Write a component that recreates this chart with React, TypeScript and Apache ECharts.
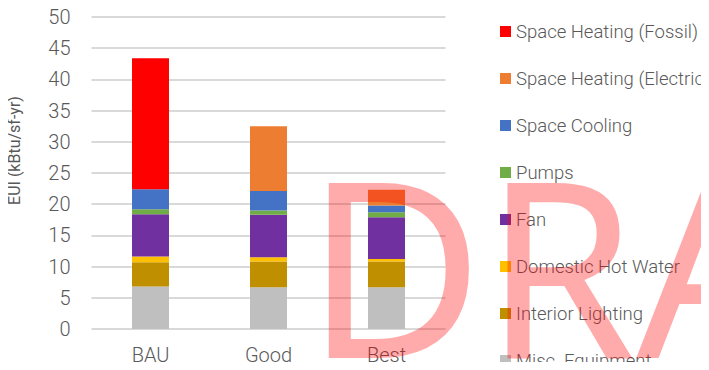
import React, { useEffect, useRef } from "react";
import * as echarts from "echarts";

const categories = ["BAU", "Good", "Best"];
const seriesNames = [
  "Misc. Equipment",
  "Interior Lighting",
  "Domestic Hot Water",
  "Fan",
  "Pumps",
  "Space Cooling",
  "Space Heating (Electric)",
  "Space Heating (Fossil)",
];
const miscEquipment = [6.8, 6.7, 6.7];
const interiorLighting = [3.9, 4.1, 4.1];
const domesticHotWater = [0.9, 0.7, 0.4];
const fan = [6.8, 6.8, 6.7];
const pumps = [0.8, 0.7, 0.8];
const spaceCooling = [3.2, 3.1, 1.1];
const spaceHeatingElectric = [0, 10.4, 2.5];
const spaceHeatingFossil = [21.0, 0, 0];
const colors = ["#BFBFBF", "#BF8F00", "#FFC000", "#7030A0", "#70AD47", "#4472C4", "#ED7D31", "#FF0000"];
const yTicks = { min: 0, max: 50, interval: 5 };

export default function App() {
  const ref = useRef<HTMLDivElement>(null);
  useEffect(() => {
    if (!ref.current) return;
    const chart = echarts.init(ref.current, undefined, { renderer: "svg" });
    const values = [
      miscEquipment,
      interiorLighting,
      domesticHotWater,
      fan,
      pumps,
      spaceCooling,
      spaceHeatingElectric,
      spaceHeatingFossil,
    ];
    const font = "Roboto";
    const textColor = "#595959";
    chart.setOption({
      animation: false,
      grid: { left: 91.5, right: 263.5, top: 17, bottom: 41 },
      legend: {
        orient: "vertical",
        left: 500,
        top: 20.5,
        height: 360,
        padding: 0,
        itemWidth: 11,
        itemHeight: 11,
        itemGap: 25,
        icon: "rect",
        data: seriesNames.slice().reverse(),
        textStyle: { fontFamily: font, fontWeight: 300, fontSize: 18.5, color: textColor, lineHeight: 22 },
      },
      xAxis: {
        type: "category",
        data: categories,
        axisLine: { show: false },
        axisTick: { show: false },
        axisLabel: { fontFamily: font, fontWeight: 300, fontSize: 20, color: textColor, margin: 16 },
      },
      yAxis: {
        type: "value",
        min: yTicks.min,
        max: yTicks.max,
        interval: yTicks.interval,
        axisLine: { show: false },
        axisTick: { show: false },
        splitLine: { lineStyle: { color: "#D9D9D9", width: 2 } },
        axisLabel: { fontFamily: font, fontWeight: 300, fontSize: 20, color: textColor, margin: 21 },
      },
      series: seriesNames.map((name, i) => ({
        name,
        type: "bar",
        stack: "total",
        barWidth: 37,
        itemStyle: { color: colors[i] },
        data: values[i],
      })),
      graphic: [
        {
          type: "text",
          x: 14,
          y: 150.5,
          rotation: Math.PI / 2,
          style: {
            text: "EUI (kBtu/sf-yr)",
            fontFamily: font,
            fontSize: 16,
            fill: textColor,
            align: "center",
            verticalAlign: "middle",
          },
        },
        {
          type: "text",
          x: 305,
          y: 263,
          z: 100,
          silent: true,
          style: {
            text: "DRAFT",
            fontFamily: "Noto Sans",
            fontSize: 245,
            fill: "rgba(255,0,0,0.33)",
            align: "left",
            verticalAlign: "middle",
          },
        },
      ],
    });
    return () => chart.dispose();
  }, []);
  return <div ref={ref} style={{ width: 709, height: 370, margin: -8 }} />;
}
